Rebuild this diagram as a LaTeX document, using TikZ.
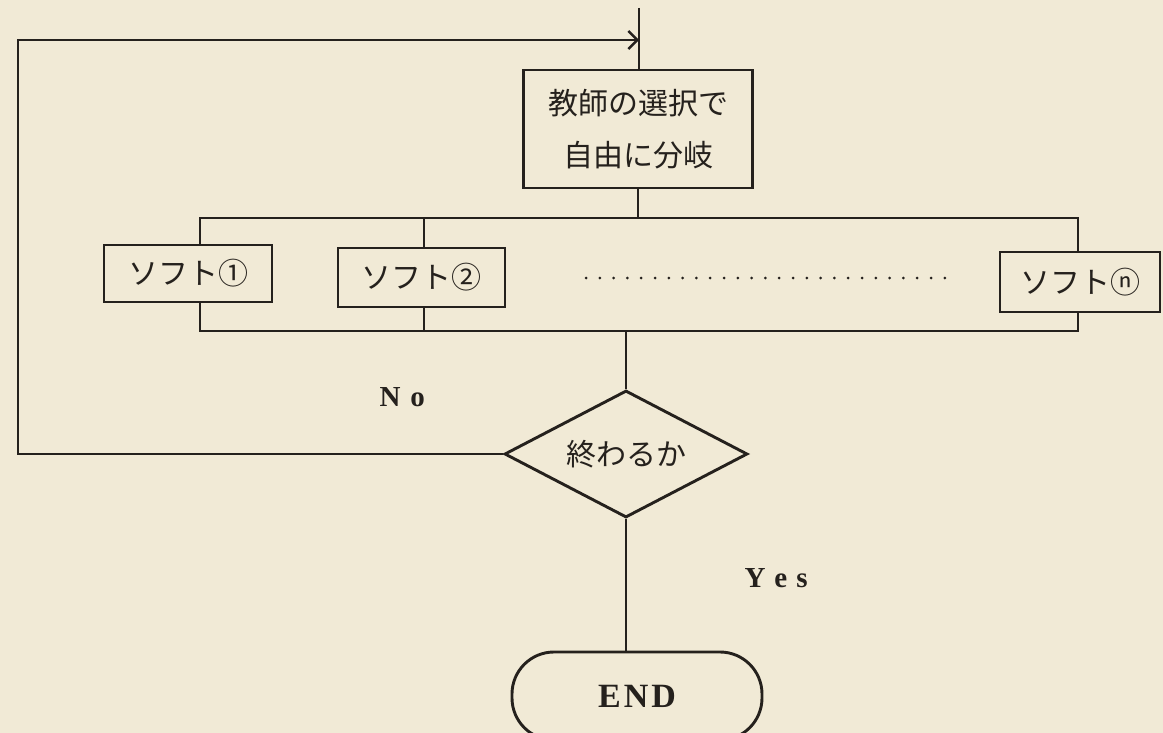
\documentclass[tikz,border=0pt]{standalone}
\usepackage{fontspec}
\setmainfont{Liberation Serif}
\newfontfamily\jp{Noto Sans CJK JP}
\usetikzlibrary{shapes.geometric,arrows.meta}
\definecolor{paper}{HTML}{F1EAD6}
\definecolor{ink}{HTML}{25211D}
\tikzset{
  ln/.style={draw=ink,line width=2.9pt},
  pbox/.style={ln,rectangle,inner sep=0pt,font=\jp\fontsize{30}{52}\selectfont,text=ink,align=center},
  dec/.style={ln,diamond,aspect=1.9,inner sep=0pt,minimum width=243pt,minimum height=127pt,font=\jp\fontsize{30}{36}\selectfont,text=ink},
  term/.style={ln,rectangle,rounded corners=42pt,inner sep=0pt,minimum width=250pt,minimum height=88pt,font=\bfseries\fontsize{34}{40}\selectfont,text=ink},
  lab/.style={font=\bfseries\fontsize{29}{36}\selectfont,text=ink}
}
\begin{document}
\begin{tikzpicture}[x=1pt,y=-1pt]
\fill[paper] (0,0) rectangle (1163,733);
\useasboundingbox (0,0) rectangle (1163,733);
% nodes
\node[pbox,minimum width=229pt,minimum height=118pt] (sel) at (638,129) {教師の選択で\\自由に分岐};
\node[pbox,minimum width=168pt,minimum height=57pt] (s1) at (188,273.5) {ソフト①};
\node[pbox,minimum width=167pt,minimum height=59pt] (s2) at (421.5,277.5) {ソフト②};
\node[pbox,minimum width=160pt,minimum height=60pt] (sn) at (1080,282) {ソフトⓝ};
\node[dec] (dia) at (626,454) {終わるか};
\node[term] (end) at (637,696) {E\hspace{3pt}N\hspace{3pt}D};
\node[lab,anchor=west] (no) at (376,397) {N\hspace{10pt}o};
\node[lab,anchor=west] (yes) at (741,578) {Y\hspace{9pt}e\hspace{9pt}s};
% coordinates
\coordinate (top) at (639,8);
\coordinate (join) at (639,40);
\coordinate (lp) at (18,40);
\coordinate (tb1) at (200,218);
\coordinate (tb2) at (424,218);
\coordinate (tbn) at (1078,218);
\coordinate (bb1) at (200,331);
\coordinate (bb2) at (424,331);
\coordinate (bbn) at (1078,331);
\coordinate (d1) at (586,278);
\coordinate (d2) at (958,278);
% connectors
\draw[ln] (top) -- (top |- sel.north);
\draw[ln] (sel.south) -- (sel.south |- tb1);
\draw[ln] (s1.north -| tb1) -- (tb1) -- (tbn) -- (tbn |- sn.north);
\draw[ln] (tb2) -- (s2.north -| tb2);
\draw[ln] (s1.south -| bb1) -- (bb1) -- (bbn) -- (bbn |- sn.south);
\draw[ln] (s2.south -| bb2) -- (bb2);
\draw[ln] (dia.north |- bb1) -- (dia.north);
\draw[ln,-{Straight Barb[length=9pt,width=18pt,line width=2.4pt]}] (dia.west) -| (lp) -- (join);
\draw[ln] (dia.south) -- (dia.south |- end.north);
\draw[draw=ink,line width=3pt,line cap=round,dash pattern=on 0pt off 13.8pt] (d1) -- (d2);
\end{tikzpicture}
\end{document}
